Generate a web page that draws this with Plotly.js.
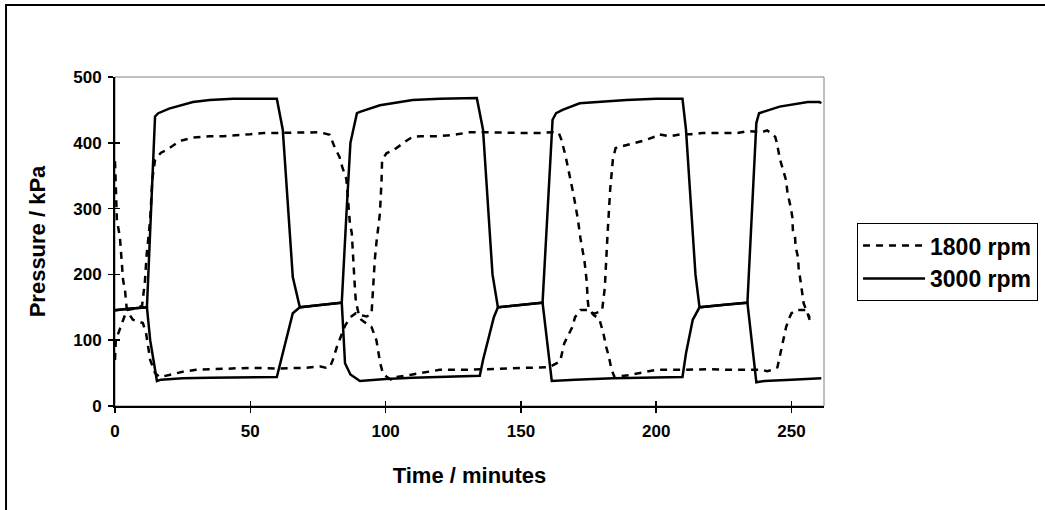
<!DOCTYPE html>
<html><head><meta charset="utf-8">
<script src="https://cdn.plot.ly/plotly-3.0.1.min.js"></script>
<style>html,body{margin:0;padding:0;background:#fff;}#chart{width:1045px;height:510px;}</style>
</head><body><div id="chart"></div>
<script>
// 1800 rpm, channel C (starts high)
const t1800c = [0,0.7,1.8,3,3.7,4.4,6.6,10.3,11.5,13,14.8,16.6,20,25,30,40,50,60,70,76,78,79.4,80.5,82,83,85,87,89,91,93,94.8,95.3,96,96.6,97.9,98.5,98.7,100.3,103,108,110,113,119,125,131,136,143,150,157,162,164,165,166.5,168,169.5,171,172,173.5,174.3,174.7,175,176.5,177,179,180.5,181.5,182.5,183.5,184.6,190,196,200,210,220,226,234,239,241,243,244.8,245.6,248,249.3,250,251.8,255.5,256.7];
const p1800c = [372,283,257,191,176,145,131,126,110,70,50,44,47,52,55,56,58,57,58,60,58,59,70,90,100,122,135,141,138,136,140,181,222,248,293,343,374,384,389,404,409,410,410,412,416,416,415,415,415,416,415,404,380,351,320,285,255,220,190,160,150,140,138,132,110,90,75,55,44,47,52,55,55,56,55,55,55,53,55,59,75,120,135,141,146,146,134];
// 1800 rpm, channel D (starts low)
const t1800d = [0,0.3,2.6,4.4,7,10,10.5,11,11.7,13,13.8,14.8,15.5,17,19,20,23,25,29,35,40,50,55,60,65,70,75.7,79.4,81,83,84,85.5,86.8,87.5,88,88.5,89,90,91,93,94.8,96.6,97.5,98,99,100.5,102,104,110,115,120,130,140,150,157,159.5,161,163,164.5,166,169,170,171,172,175,177,180,181,182,183,184,185,189.5,196,200,201,205,209,213,217,221,226,230,234,239,241,244,244.5,245.3,245.8,248,248.5,249.7,250.3,250.5,251.3,251.5,252.4,252.6,253.2,253.5,254.2,254.5,255.9,256.2,256.7];
const p1800d = [70,100,126,146,148,152,170,186,230,283,345,374,378,385,389,392,400,404,408,410,410,413,415,415,415,416,416,412,395,378,363,345,278,263,217,190,159,141,131,125,120,100,75,65,50,44,40,44,48,52,55,55,56,58,58,59,60,65,68,95,120,135,141,146,146,140,145,180,260,330,375,392,397,404,410,413,410,413,413,415,415,415,415,418,416,419,409,401,385,374,343,324,302,287,267,257,242,226,211,191,181,166,156,141,138,131];
// 3000 rpm, channel A
const t3000a = [0,5,11.8,14.8,16,20,25,28.8,35,43.6,59.8,62,65.7,68.3,75,83.8,85,87,90.5,100,110,120,134.8,136,140,141.5,150,158,161.7,163,165.4,171.7,189,200,209.7,211,214.5,216,225,233.7,237,240,250,261];
const p3000a = [146,148,150,440,445,452,458,462,465,467,467,420,196,150,153,157,65,48,38,41,43,44,46,70,135,150,154,157,435,445,450,460,465,467,467,420,200,150,154,157,36,38,40,42];
// 3000 rpm, channel B
const t3000b = [0,5,11.8,13,15.5,17,25,35,59.8,62,65.7,68.3,75,83.8,85.5,87,89.4,90.5,97.9,110,120,133.7,136,139.5,141.5,150,158,161.4,170,184,200,209.7,211,213.5,216,225,233.7,237,238,245.6,252,256,260.3,261];
const p3000b = [145,148,150,100,38,40,42,43,44,80,141,150,153,157,290,400,445,447,457,465,467,468,420,200,150,154,157,38,40,42,43,44,80,131,150,154,157,430,445,455,460,462,462,460];

const xTicks = [0,50,100,150,200,250];
const yTicks = [0,100,200,300,400,500];
const seriesNames = ['1800 rpm','3000 rpm'];

const FONT = 'Liberation Sans, Arial, Helvetica, sans-serif';
const dashed = {color:'#000', width:2.5, dash:'7px,6px'};
const solid = {color:'#000', width:2.5};

const traces = [
  {x:t1800c, y:p1800c, mode:'lines', name:seriesNames[0], legendgroup:'a', line:dashed, showlegend:true},
  {x:t1800d, y:p1800d, mode:'lines', name:seriesNames[0], legendgroup:'a', line:dashed, showlegend:false},
  {x:t3000a, y:p3000a, mode:'lines', name:seriesNames[1], legendgroup:'b', line:solid, showlegend:true},
  {x:t3000b, y:p3000b, mode:'lines', name:seriesNames[1], legendgroup:'b', line:solid, showlegend:false},
  {x:[null], y:[null], xaxis:'x2', yaxis:'y2', mode:'lines', showlegend:false, hoverinfo:'skip'}
];

const axisCommon = {showgrid:false, zeroline:false, ticks:'outside', ticklen:5, tickwidth:1.5, tickcolor:'#000', automargin:false,
  showline:true, linecolor:'#000', linewidth:2, tickfont:{family:FONT, size:17, color:'#000', weight:'bold'}};

const layout = {
  width:1045, height:510,
  margin:{l:115, r:221, t:77, b:104, autoexpand:false},
  paper_bgcolor:'#fff', plot_bgcolor:'#fff',
  font:{family:FONT, color:'#000'},
  showlegend:true,
  xaxis: Object.assign({}, axisCommon, {range:[0,262], tickvals:xTicks, ticktext:xTicks.map(String), ticklabelstandoff:4,
    title:{text:'Time / minutes', font:{family:FONT, size:22, weight:'bold', color:'#000'}, standoff:27}}),
  yaxis: Object.assign({}, axisCommon, {range:[0,500], tickvals:yTicks, ticktext:yTicks.map(String), ticklabelstandoff:3,
    title:{text:'Pressure / kPa', font:{family:FONT, size:22, weight:'bold', color:'#000'}, standoff:22}}),
  xaxis2:{overlaying:'x', anchor:'y2', side:'bottom', range:[0,262], tickvals:xTicks, ticks:'inside', ticklen:5, tickwidth:1.5, tickcolor:'#000', showticklabels:false, showgrid:false, zeroline:false, showline:false},
  yaxis2:{overlaying:'y', anchor:'x2', side:'left', range:[0,500], tickvals:yTicks, ticks:'inside', ticklen:5, tickwidth:1.5, tickcolor:'#000', showticklabels:false, showgrid:false, zeroline:false, showline:false},
  legend:{x:1.0466, xanchor:'left', y:0.556, yanchor:'top', bgcolor:'#fff', bordercolor:'#000', borderwidth:1,
    font:{family:FONT, size:23, weight:'bold', color:'#000'}, itemwidth:62, tracegroupgap:0},
  shapes:[
    {type:'rect', xref:'paper', yref:'paper', x0:0, x1:1, y0:0, y1:1, line:{color:'#808080', width:1}, layer:'below'},
    {type:'rect', xref:'paper', yref:'paper', x0:-0.1537, x1:2, y0:-1, y1:1.2188, line:{color:'#000', width:2}, layer:'below'}
  ]
};

Plotly.newPlot('chart', traces, layout, {displayModeBar:false, staticPlot:true});
</script>
</body></html>
